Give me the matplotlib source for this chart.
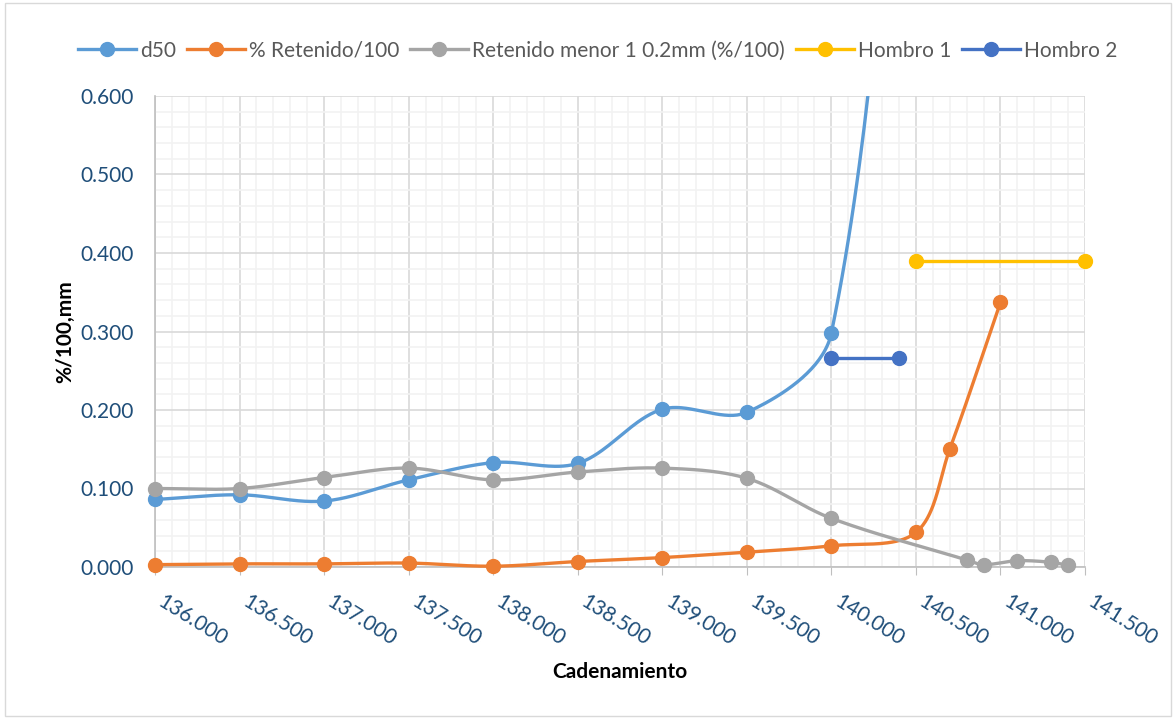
# Recreation of the Excel style "Cadenamiento" chart with smoothed lines
import numpy as np
import matplotlib.pyplot as plt
from matplotlib.patches import Rectangle
from matplotlib.ticker import MultipleLocator, FormatStrFormatter
from matplotlib.transforms import ScaledTranslation

# Data
d50_x = [136.0, 136.5, 137.0, 137.5, 138.0, 138.5, 139.0, 139.5, 140.0, 140.5]
d50_y = [0.086, 0.092, 0.084, 0.111, 0.133, 0.132, 0.201, 0.197, 0.298, 1.25]

ret_x = [136.0, 136.5, 137.0, 137.5, 138.0, 138.5, 139.0, 139.5, 140.0,
         140.5, 140.7, 141.0]
ret_y = [0.003, 0.004, 0.004, 0.005, 0.001, 0.007, 0.012, 0.019, 0.027,
         0.044, 0.150, 0.337]

menor_x = [136.0, 136.5, 137.0, 137.5, 138.0, 138.5, 139.0, 139.5, 140.0,
           140.8, 140.9, 141.1, 141.3, 141.4]
menor_y = [0.100, 0.100, 0.114, 0.126, 0.111, 0.121, 0.126, 0.113, 0.062,
           0.009, 0.003, 0.008, 0.006, 0.002]

h1_x = [140.5, 141.5]
h1_y = [0.39, 0.39]

h2_x = [140.0, 140.4]
h2_y = [0.266, 0.266]

labels = ["d50", "% Retenido/100", "Retenido menor 1 0.2mm (%/100)",
          "Hombro 1", "Hombro 2"]
colors = ["#5B9BD5", "#ED7D31", "#A5A5A5", "#FFC000", "#4472C4"]

plt.rcParams['font.family'] = ['Lato', 'DejaVu Sans']

# approximate pixels per data unit, used to weight the smoothing like Excel
SX, SY = 169.0, 785.0


def smooth(x, y, n=40):
    """Bezier smoothing with tangents weighted by segment length."""
    p = np.column_stack([np.asarray(x, float) * SX, np.asarray(y, float) * SY])
    p = np.vstack([p[0], p, p[-1]])
    t = np.linspace(0, 1, n)[:, None]
    out = []
    for i in range(1, len(p) - 2):
        p0, p1, p2, p3 = p[i - 1], p[i], p[i + 1], p[i + 2]
        d01 = np.hypot(*(p1 - p0))
        d12 = np.hypot(*(p2 - p1))
        d23 = np.hypot(*(p3 - p2))
        w1 = d12 / (d01 + d12) if d01 + d12 > 0 else 0
        w2 = d12 / (d12 + d23) if d12 + d23 > 0 else 0
        c1 = p1 + (p2 - p0) * w1 / 3
        c2 = p2 - (p3 - p1) * w2 / 3
        b = (1 - t) ** 3 * p1 + 3 * (1 - t) ** 2 * t * c1 \
            + 3 * (1 - t) * t ** 2 * c2 + t ** 3 * p2
        out.append(b)
    out = np.vstack(out)
    return out[:, 0] / SX, out[:, 1] / SY


fig = plt.figure(figsize=(11.76, 7.19), dpi=100)
ax = fig.add_axes([155 / 1176, 1 - 567 / 719, 930 / 1176, 471 / 719])

# outer chart border
fig.patches.append(Rectangle((0.004, 0.004), 0.992, 0.992,
                             transform=fig.transFigure, fill=False,
                             edgecolor='#D9D9D9', linewidth=1))

series = [(d50_x, d50_y), (ret_x, ret_y), (menor_x, menor_y),
          (h1_x, h1_y), (h2_x, h2_y)]

for (xv, yv), lab, col in zip(series, labels, colors):
    xv = np.array(xv)
    yv = np.array(yv)
    sx, sy = smooth(xv, yv)
    ax.plot(sx, sy, color=col, linewidth=2.4, zorder=3,
            clip_on=(lab == "d50"), solid_capstyle='round')
    vis = yv <= 0.6
    ax.plot(xv[vis], yv[vis], 'o', color=col, markersize=10, zorder=4,
            clip_on=False)
    # legend handle
    ax.plot([], [], '-o', color=col, linewidth=2.4, markersize=10, label=lab)

ax.set_xlim(136, 141.5)
ax.set_ylim(0, 0.6)
ax.xaxis.set_major_locator(MultipleLocator(0.5))
ax.xaxis.set_minor_locator(MultipleLocator(0.1))
ax.yaxis.set_major_locator(MultipleLocator(0.1))
ax.yaxis.set_minor_locator(MultipleLocator(0.02))
ax.xaxis.set_major_formatter(FormatStrFormatter('%.3f'))
ax.yaxis.set_major_formatter(FormatStrFormatter('%.3f'))

ax.grid(which='major', color='#D9D9D9', linewidth=1.2, zorder=1)
ax.grid(which='minor', color='#F2F2F2', linewidth=1.2, zorder=0)
ax.set_axisbelow(True)

for s in ['top', 'right']:
    ax.spines[s].set_visible(False)
for s in ['left', 'bottom']:
    ax.spines[s].set_color('#BFBFBF')
    ax.spines[s].set_linewidth(1.2)

tick_col = '#1F4E79'
ax.tick_params(axis='y', which='both', length=0, labelsize=15,
               labelcolor=tick_col, pad=15)
ax.tick_params(axis='x', which='minor', length=0)
ax.tick_params(axis='x', which='major', length=6, color='#BFBFBF',
               labelsize=15, labelcolor=tick_col, pad=10)
shift = ScaledTranslation(0.10, -0.02, fig.dpi_scale_trans)
for lbl in ax.get_xticklabels():
    lbl.set_rotation(-32)
    lbl.set_ha('left')
    lbl.set_va('top')
    lbl.set_rotation_mode('anchor')
    lbl.set_transform(lbl.get_transform() + shift)

ax.set_xlabel('Cadenamiento', fontsize=15, fontweight='bold', labelpad=9)
ax.set_ylabel('%/100,mm', fontsize=15, fontweight='bold', labelpad=4)

ax.legend(loc='lower center', bbox_to_anchor=(0.476, 1.035), ncol=5,
          frameon=False, fontsize=15, handlelength=2.8, columnspacing=0.5,
          handletextpad=0.2, labelcolor='#595959')

plt.savefig('out.png', dpi=100)
